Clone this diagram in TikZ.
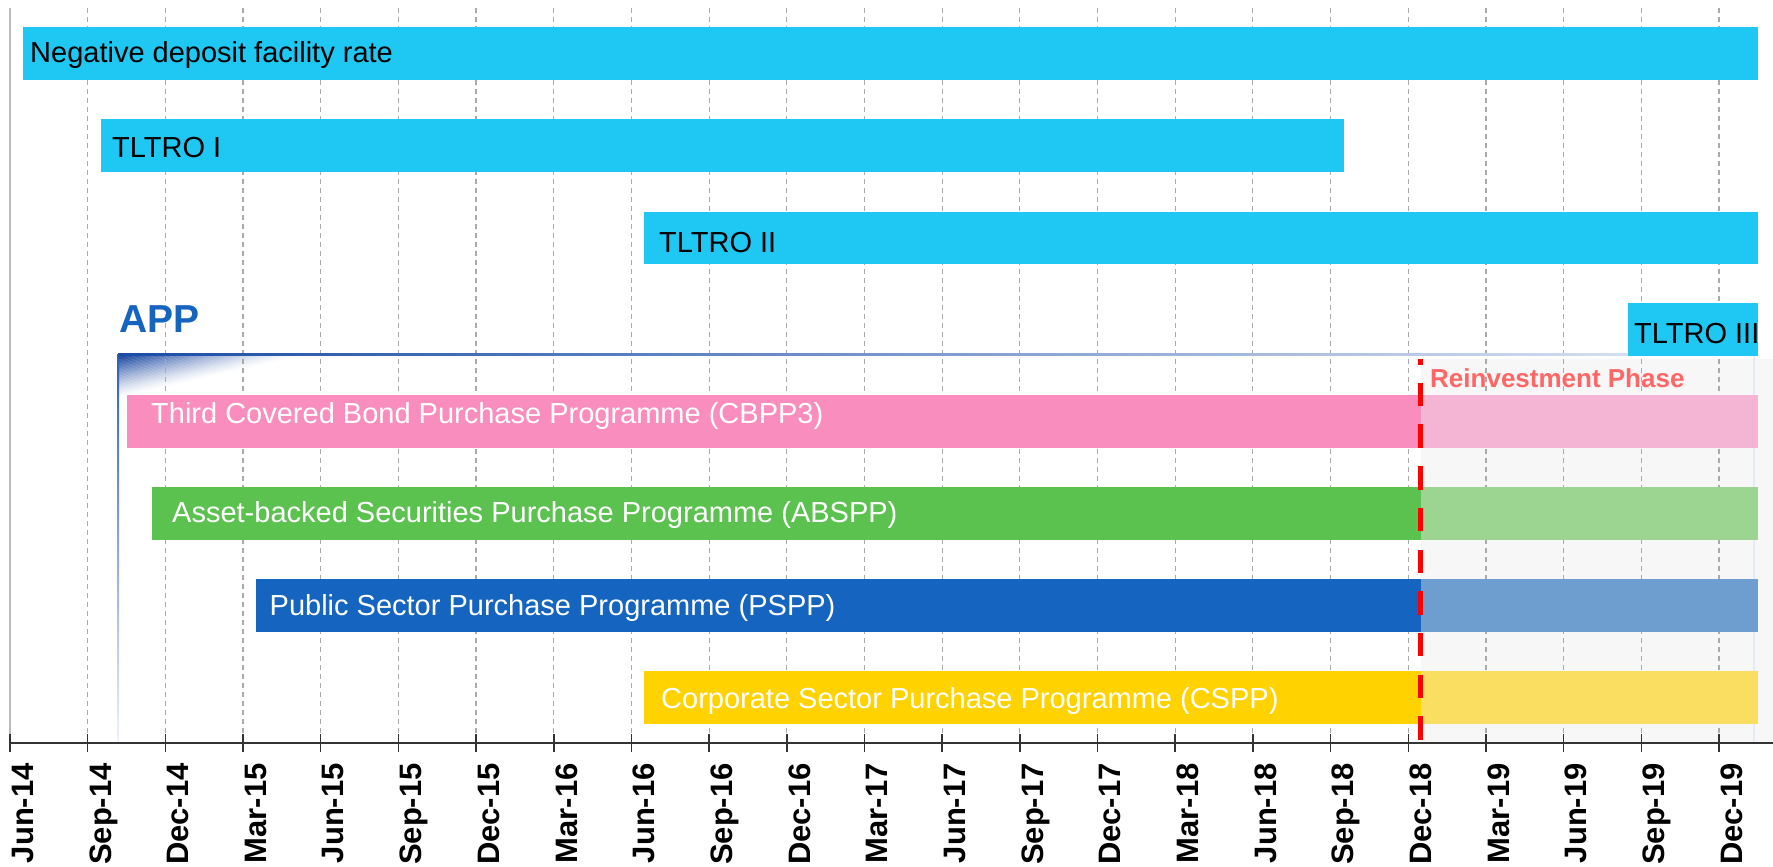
\documentclass[tikz,border=0pt]{standalone}
\usepackage{fontspec}
\setmainfont{Liberation Sans}
\definecolor{tealbar}{HTML}{1FC8F3}
\definecolor{pinkbar}{HTML}{F98DBE}
\definecolor{pinklt}{HTML}{F4B4D4}
\definecolor{greenbar}{HTML}{5BC250}
\definecolor{greenlt}{HTML}{9BD591}
\definecolor{bluebar}{HTML}{1565C0}
\definecolor{bluelt}{HTML}{6E9DD0}
\definecolor{yellowbar}{HTML}{FFD200}
\definecolor{yellowlt}{HTML}{F9DE62}
\definecolor{appblue}{HTML}{1565C0}
\definecolor{appdark}{HTML}{0B3A9A}
\definecolor{appline}{HTML}{1A4CA6}
\definecolor{applight}{HTML}{E4EAF6}
\definecolor{reinv}{HTML}{FF6666}
\definecolor{reinvbg}{HTML}{F7F7F7}
\definecolor{gridgray}{HTML}{AAAAAA}
\definecolor{leftgray}{HTML}{BBBBBB}
\definecolor{axisgray}{HTML}{333333}
\begin{document}
\begin{tikzpicture}[x=1pt,y=-1pt,
  bartext/.style={anchor=base west, inner sep=0, font=\fontsize{29}{34}\selectfont},
  darktext/.style={bartext, text=black},
  lighttext/.style={bartext, text=white},
  datelabel/.style={rotate=90, anchor=north east, inner sep=0, font=\fontsize{31}{36}\selectfont\bfseries},
  gridline/.style={draw=gridgray, line width=1.2pt, dash pattern=on 5pt off 4pt},
  tickline/.style={draw=axisgray, line width=1.5pt},
]
\useasboundingbox[fill=white] (0,0) rectangle (1773,867);
% reinvestment background
\fill[reinvbg] (1421,359) rectangle (1773,743);
% APP corner gradient (diagonal fade from the corner)
\foreach \i in {0,...,29} {
  \pgfmathsetmacro\ta{\i/30}
  \pgfmathsetmacro\tb{(\i+1.15)/30}
  \pgfmathsetmacro\pc{100*(1-\ta)^1.3}
  \fill[appdark!\pc!white]
    ({118+\ta*190},354) -- ({118+\tb*190},354) -- (118,{354+\tb*44}) -- (118,{354+\ta*44}) -- cycle;
}
% grid
\foreach \k in {1,...,22}
  \draw[gridline] ({10+77.68*\k},8) -- ({10+77.68*\k},734);
\draw[leftgray, line width=2pt] (10,8) -- (10,743);
% APP frame
\draw[applight, line width=1.5pt] (1754,354) -- (1754,743);
\shade[left color=appline, right color=applight] (118,353) rectangle (1754,355.2);
\shade[top color=appline!90!white, bottom color=applight!60!white] (117,354) rectangle (119.2,743);
% bars
\fill[tealbar] (23,27) rectangle (1758,80);
\node[darktext] (ndfr) at (30,63) {Negative deposit facility rate};
\fill[tealbar] (101,119) rectangle (1344,172);
\node[darktext] (tltro1) at (112,157) {TLTRO I};
\fill[tealbar] (644,211.5) rectangle (1758,264);
\node[darktext] (tltro2) at (659,252) {TLTRO II};
\fill[tealbar] (1628,303) rectangle (1758,356);
\node[darktext] (tltro3) at (1634,343) {TLTRO III};
\fill[pinkbar] (127,395) rectangle (1421,448);
\fill[pinklt] (1421,395) rectangle (1758,448);
\node[lighttext] (cbpp) at (151,423) {Third Covered Bond Purchase Programme (CBPP3)};
\fill[greenbar] (152,487) rectangle (1421,540);
\fill[greenlt] (1421,487) rectangle (1758,540);
\node[lighttext] (abspp) at (172,522) {Asset-backed Securities Purchase Programme (ABSPP)};
\fill[bluebar] (256,579) rectangle (1421,632);
\fill[bluelt] (1421,579) rectangle (1758,632);
\node[lighttext] (pspp) at (269.5,615.5) {Public Sector Purchase Programme (PSPP)};
\fill[yellowbar] (644,671) rectangle (1421,724);
\fill[yellowlt] (1421,671) rectangle (1758,724);
\node[lighttext] (cspp) at (661,708) {Corporate Sector Purchase Programme (CSPP)};
% labels
\node[anchor=base west, inner sep=0, font=\fontsize{39}{44}\selectfont\bfseries, text=appblue] (app) at (119,332) {APP};
\node[anchor=base west, inner sep=0, font=\fontsize{26}{30}\selectfont\bfseries, text=reinv] (reinvlabel) at (1430,387) {Reinvestment Phase};
% red dashed line
\draw[red, line width=5pt, dash pattern=on 23.5pt off 18.2pt, dash phase=18pt] (1420.5,359) -- (1420.5,743);
% axis
\draw[axisgray, line width=1.5pt] (10,743) -- (1773,743);
\foreach \k in {0,...,22}
  \draw[tickline] ({10+77.68*\k},734) -- ({10+77.68*\k},752);
\foreach \k/\lab in {0/Jun-14,1/Sep-14,2/Dec-14,3/Mar-15,4/Jun-15,5/Sep-15,6/Dec-15,7/Mar-16,8/Jun-16,9/Sep-16,10/Dec-16,11/Mar-17,12/Jun-17,13/Sep-17,14/Dec-17,15/Mar-18,16/Jun-18,17/Sep-18,18/Dec-18,19/Mar-19,20/Jun-19,21/Sep-19,22/Dec-19}
  \node[datelabel] (d\k) at ({11.5+77.68*\k},763) {\lab};
\end{tikzpicture}
\end{document}
